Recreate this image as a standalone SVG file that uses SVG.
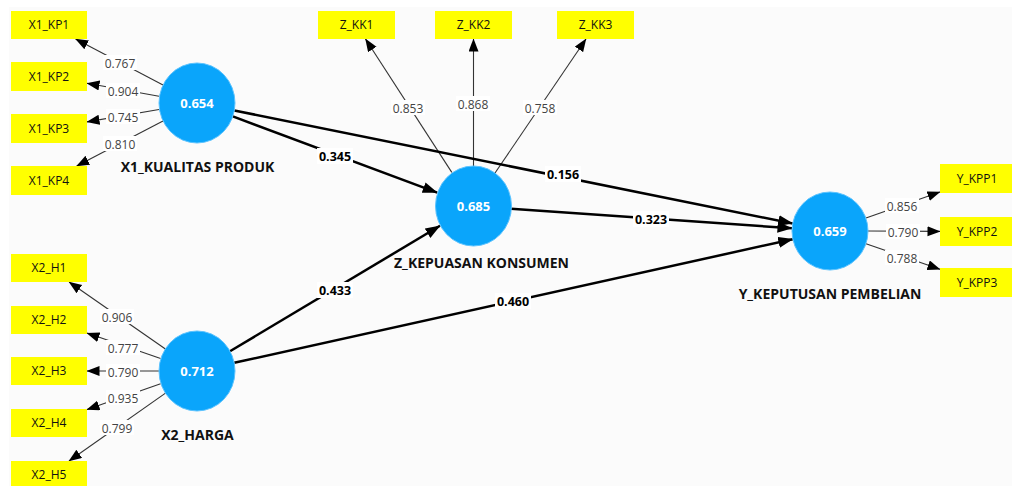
<svg xmlns="http://www.w3.org/2000/svg" width="1012" height="486" viewBox="0 0 1012 486">
<defs>
<style>
.bg{fill:#fbfbfb}
.box{fill:#ffff00}
.btxt{font-family:"Open Sans","Liberation Sans",sans-serif;font-size:12px;fill:#111;text-anchor:middle}
.lv{fill:#0aa5fb;stroke:#5cc3ff;stroke-width:1}
.val{font-family:"Open Sans","Liberation Sans",sans-serif;font-size:13px;font-weight:bold;fill:#fff;text-anchor:middle}
.name{font-family:"Open Sans","Liberation Sans",sans-serif;font-size:14px;font-weight:bold;fill:#111;text-anchor:middle}
.ol{stroke:#333;stroke-width:1.1;fill:none;marker-end:url(#ah)}
.il{stroke:#000;stroke-width:2.5;fill:none;marker-end:url(#ahb)}
.lbg{fill:#fff}
.olt{font-family:"Open Sans","Liberation Sans",sans-serif;font-size:12px;fill:#444;text-anchor:middle}
.ilt{font-family:"Open Sans","Liberation Sans",sans-serif;font-size:12.5px;font-weight:bold;fill:#000;text-anchor:middle}
</style>
<marker id="ah" markerUnits="userSpaceOnUse" markerWidth="14" markerHeight="11" refX="12.5" refY="5" orient="auto">
<path d="M0,0 L13,5 L0,10 z" fill="#000"/>
</marker>
<marker id="ahb" markerUnits="userSpaceOnUse" markerWidth="16" markerHeight="12" refX="14.5" refY="5.5" orient="auto">
<path d="M0,0 L15,5.5 L0,11 z" fill="#000"/>
</marker>
</defs>
<rect x="0" y="0" width="1012" height="486" fill="#fff"/>
<rect class="bg" x="9" y="7" width="1003" height="479"/>

<g id="connectors">
<!-- outer loadings X1 -->
<line class="ol" x1="163" y1="85" x2="75.6" y2="39"/>
<line class="ol" x1="159" y1="96.2" x2="87" y2="83.3"/>
<line class="ol" x1="159" y1="109.5" x2="87" y2="121.9"/>
<line class="ol" x1="163" y1="120.9" x2="76.7" y2="166"/>
<!-- X2 -->
<line class="ol" x1="165.4" y1="349" x2="69.1" y2="282"/>
<line class="ol" x1="160.6" y1="358.5" x2="87" y2="333.1"/>
<line class="ol" x1="159" y1="371" x2="87" y2="371"/>
<line class="ol" x1="160.6" y1="383.7" x2="87" y2="409.6"/>
<line class="ol" x1="165.5" y1="393.1" x2="69" y2="461"/>
<!-- Z -->
<line class="ol" x1="451.8" y1="172.4" x2="365.5" y2="39"/>
<line class="ol" x1="473.5" y1="166" x2="473.5" y2="39"/>
<line class="ol" x1="495" y1="173" x2="586" y2="39"/>
<!-- Y -->
<line class="ol" x1="866" y1="218" x2="940" y2="192"/>
<line class="ol" x1="868" y1="231" x2="940" y2="231.4"/>
<line class="ol" x1="866" y1="243.7" x2="940" y2="269.3"/>
<!-- structural -->
<line class="il" x1="232.8" y1="116.4" x2="437.2" y2="192.6"/>
<line class="il" x1="234.3" y1="110.5" x2="792.7" y2="223.5"/>
<line class="il" x1="511" y1="208.7" x2="792" y2="228.3"/>
<line class="il" x1="230" y1="351.2" x2="440" y2="225.8"/>
<line class="il" x1="234.2" y1="362.8" x2="792.8" y2="239.2"/>

<!-- outer labels -->
<rect class="lbg" x="103" y="55" width="34" height="15"/><text class="olt" x="120" y="67.5">0.767</text>
<rect class="lbg" x="106" y="83" width="34" height="15"/><text class="olt" x="123" y="95.5">0.904</text>
<rect class="lbg" x="106" y="109" width="34" height="15"/><text class="olt" x="123" y="121.5">0.745</text>
<rect class="lbg" x="103" y="136" width="34" height="15"/><text class="olt" x="120" y="148.5">0.810</text>

<rect class="lbg" x="100" y="309" width="34" height="15"/><text class="olt" x="117" y="321.5">0.906</text>
<rect class="lbg" x="106" y="340" width="34" height="15"/><text class="olt" x="123" y="352.5">0.777</text>
<rect class="lbg" x="106" y="364" width="34" height="15"/><text class="olt" x="123" y="376.5">0.790</text>
<rect class="lbg" x="106" y="390" width="34" height="15"/><text class="olt" x="123" y="402.5">0.935</text>
<rect class="lbg" x="100" y="420" width="34" height="15"/><text class="olt" x="117" y="432.5">0.799</text>

<rect class="lbg" x="391" y="100" width="34" height="15"/><text class="olt" x="408" y="112.5">0.853</text>
<rect class="lbg" x="456" y="96" width="34" height="15"/><text class="olt" x="473" y="108.5">0.868</text>
<rect class="lbg" x="523" y="100" width="34" height="15"/><text class="olt" x="540" y="112.5">0.758</text>

<rect class="lbg" x="885" y="198" width="34" height="15"/><text class="olt" x="902" y="210.5">0.856</text>
<rect class="lbg" x="886" y="224" width="34" height="15"/><text class="olt" x="903" y="236.5">0.790</text>
<rect class="lbg" x="885" y="250" width="34" height="15"/><text class="olt" x="902" y="262.5">0.788</text>

<!-- structural labels -->
<rect class="lbg" x="317" y="148" width="36" height="16"/><text class="ilt" x="335" y="160.5">0.345</text>
<rect class="lbg" x="545" y="166" width="36" height="16"/><text class="ilt" x="563" y="178.5">0.156</text>
<rect class="lbg" x="633" y="211" width="36" height="16"/><text class="ilt" x="651" y="223.5">0.323</text>
<rect class="lbg" x="317" y="282" width="36" height="16"/><text class="ilt" x="335" y="294.5">0.433</text>
<rect class="lbg" x="495" y="293" width="36" height="16"/><text class="ilt" x="513" y="305.5">0.460</text>
</g>

<g id="X1_KUALITAS_PRODUK">
<ellipse class="lv" cx="197" cy="103" rx="38" ry="40"/>
<text class="val" x="197" y="108">0.654</text>
<text class="name" x="197.5" y="172">X1_KUALITAS PRODUK</text>
</g>
<g id="X2_HARGA">
<ellipse class="lv" cx="197" cy="371" rx="38" ry="40"/>
<text class="val" x="197" y="376">0.712</text>
<text class="name" x="197.5" y="440">X2_HARGA</text>
</g>
<g id="Z_KEPUASAN_KONSUMEN">
<ellipse class="lv" cx="473.5" cy="206" rx="38" ry="40"/>
<text class="val" x="473.5" y="211">0.685</text>
<text class="name" x="481.5" y="268">Z_KEPUASAN KONSUMEN</text>
</g>
<g id="Y_KEPUTUSAN_PEMBELIAN">
<ellipse class="lv" cx="830" cy="231" rx="38" ry="39"/>
<text class="val" x="830" y="236">0.659</text>
<text class="name" x="830" y="299">Y_KEPUTUSAN PEMBELIAN</text>
</g>

<g id="X1_KP1"><rect class="box" x="11" y="11" width="76" height="28"/><text class="btxt" x="49" y="29.3">X1_KP1</text></g>
<g id="X1_KP2"><rect class="box" x="11" y="62" width="76" height="29"/><text class="btxt" x="49" y="80.8">X1_KP2</text></g>
<g id="X1_KP3"><rect class="box" x="11" y="114" width="76" height="29"/><text class="btxt" x="49" y="132.8">X1_KP3</text></g>
<g id="X1_KP4"><rect class="box" x="11" y="166" width="76" height="29"/><text class="btxt" x="49" y="184.8">X1_KP4</text></g>

<g id="X2_H1"><rect class="box" x="11" y="254" width="76" height="28"/><text class="btxt" x="49" y="272.3">X2_H1</text></g>
<g id="X2_H2"><rect class="box" x="11" y="306" width="76" height="28"/><text class="btxt" x="49" y="324.3">X2_H2</text></g>
<g id="X2_H3"><rect class="box" x="11" y="357" width="76" height="28"/><text class="btxt" x="49" y="375.3">X2_H3</text></g>
<g id="X2_H4"><rect class="box" x="11" y="409" width="76" height="28"/><text class="btxt" x="49" y="427.3">X2_H4</text></g>
<g id="X2_H5"><rect class="box" x="11" y="461" width="76" height="28"/><text class="btxt" x="49" y="479.3">X2_H5</text></g>

<g id="Z_KK1"><rect class="box" x="318" y="11" width="77" height="28"/><text class="btxt" x="356.5" y="29.3">Z_KK1</text></g>
<g id="Z_KK2"><rect class="box" x="435" y="11" width="77" height="28"/><text class="btxt" x="473.5" y="29.3">Z_KK2</text></g>
<g id="Z_KK3"><rect class="box" x="557" y="11" width="77" height="28"/><text class="btxt" x="595.5" y="29.3">Z_KK3</text></g>

<g id="Y_KPP1"><rect class="box" x="940" y="164" width="76" height="29"/><text class="btxt" x="977" y="182.8">Y_KPP1</text></g>
<g id="Y_KPP2"><rect class="box" x="940" y="217" width="76" height="29"/><text class="btxt" x="977" y="235.8">Y_KPP2</text></g>
<g id="Y_KPP3"><rect class="box" x="940" y="268" width="76" height="29"/><text class="btxt" x="977" y="286.8">Y_KPP3</text></g>
</svg>
